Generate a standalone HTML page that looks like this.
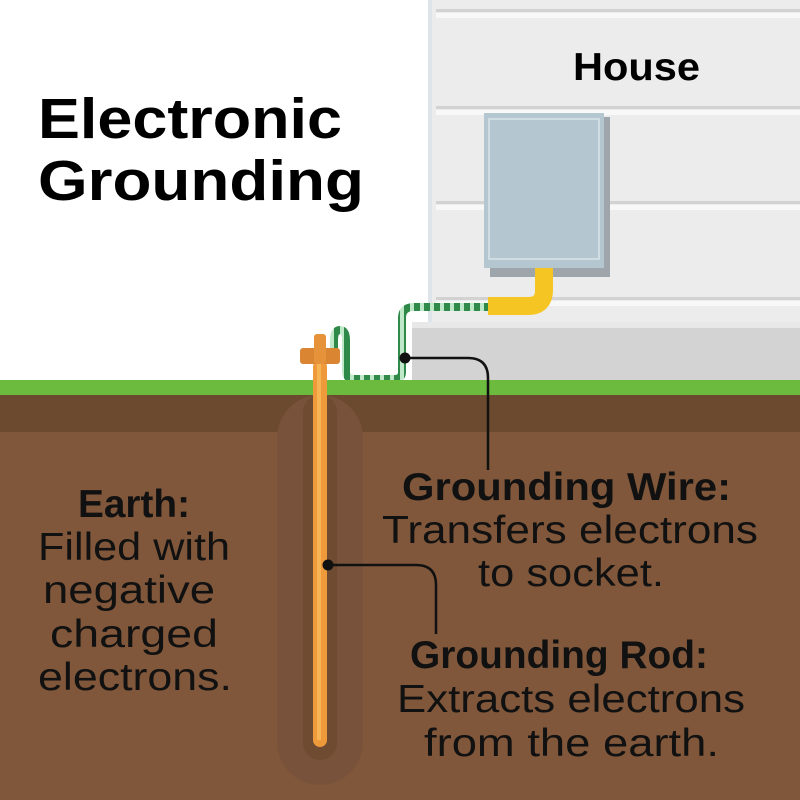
<!DOCTYPE html>
<html><head><meta charset="utf-8"><style>html,body{margin:0;padding:0;width:800px;height:800px;overflow:hidden}</style></head>
<body>
<svg width="800" height="800" viewBox="0 0 800 800" xmlns="http://www.w3.org/2000/svg" font-family="Liberation Sans, sans-serif">
<defs><pattern id="tw" width="10" height="10" patternUnits="userSpaceOnUse"><rect width="10" height="10" fill="#2f8a4a"/><rect width="4" height="10" fill="#bfe8c8"/></pattern></defs>
<rect width="800" height="800" fill="#ffffff"/>
<rect x="428" y="0" width="372" height="330" fill="#ececec"/>
<rect x="428" y="0" width="4" height="330" fill="#dde4ea"/>
<g fill="#d2d2d2">
<rect x="436" y="9" width="364" height="3"/>
<rect x="436" y="106" width="364" height="3"/>
<rect x="436" y="201" width="364" height="3"/>
<rect x="436" y="297" width="364" height="3"/>
</g>
<g fill="#f8f8f8">
<rect x="436" y="13" width="364" height="5"/>
<rect x="436" y="110" width="364" height="5"/>
<rect x="436" y="205" width="364" height="5"/>
<rect x="436" y="301" width="364" height="5"/>
</g>
<rect x="412" y="325" width="388" height="60" fill="#d3d3d3"/>
<rect x="412" y="322" width="388" height="6" fill="#e8e8e8"/>
<rect x="490" y="117" width="120" height="160" fill="#9ea6ac"/>
<rect x="484" y="113" width="120" height="155" fill="#b4c6cf"/>
<rect x="489" y="119" width="110" height="140" fill="none" stroke="#cfdce2" stroke-width="2"/>
<path d="M544 268 V290 Q544 306 528 306 H488" fill="none" stroke="#f5c623" stroke-width="18"/>
<path d="M488 307 H414 Q402 307 402 318 V372 Q402 379 394 379 H354 Q346 379 346 371 V340 Q346 330 340 330 Q334 330 334 340 V356" fill="none" stroke="url(#tw)" stroke-width="8"/>
<rect x="0" y="380" width="800" height="15" fill="#6cbb3f"/>
<rect x="0" y="395" width="800" height="37" fill="#6c4a2f"/>
<rect x="0" y="432" width="800" height="368" fill="#80573a"/>
<rect x="277" y="395" width="86" height="390" rx="43" fill="#78523a"/>
<rect x="303" y="395" width="34" height="365" rx="17" fill="#6e4b31"/>
<rect x="313" y="360" width="14" height="387" rx="7" fill="#ee9a3a"/>
<rect x="317" y="360" width="4" height="380" fill="#f7b455"/>
<rect x="300" y="348" width="40" height="16" rx="3" fill="#d98532"/>
<rect x="314" y="334" width="12" height="30" rx="3" fill="#e5923a"/>
<path d="M405 358 H468 Q488 358 488 378 V470" fill="none" stroke="#111" stroke-width="2.5"/>
<circle cx="405" cy="358" r="5.5" fill="#111"/>
<path d="M328 565 H416 Q436 565 436 585 V634" fill="none" stroke="#111" stroke-width="2.5"/>
<circle cx="328" cy="565" r="5.5" fill="#111"/>
<g font-weight="bold" fill="#000">
<text x="38" y="138" font-size="57" textLength="304" lengthAdjust="spacingAndGlyphs">Electronic</text>
<text x="38" y="200" font-size="57" textLength="326" lengthAdjust="spacingAndGlyphs">Grounding</text>
<text x="573" y="80" font-size="39" textLength="127" lengthAdjust="spacingAndGlyphs">House</text>
</g>
<g fill="#111" font-size="39">
<text x="402" y="500" font-weight="bold" textLength="329" lengthAdjust="spacingAndGlyphs">Grounding Wire:</text>
<text x="382" y="543" textLength="376" lengthAdjust="spacingAndGlyphs">Transfers electrons</text>
<text x="478" y="586" textLength="186" lengthAdjust="spacingAndGlyphs">to socket.</text>
<text x="410" y="668" font-weight="bold" textLength="298" lengthAdjust="spacingAndGlyphs">Grounding Rod:</text>
<text x="397" y="712" textLength="348" lengthAdjust="spacingAndGlyphs">Extracts electrons</text>
<text x="424" y="756" textLength="295" lengthAdjust="spacingAndGlyphs">from the earth.</text>
<text x="78" y="517" font-weight="bold" textLength="112" lengthAdjust="spacingAndGlyphs">Earth:</text>
<text x="38" y="560" textLength="192" lengthAdjust="spacingAndGlyphs">Filled with</text>
<text x="43" y="603" textLength="172" lengthAdjust="spacingAndGlyphs">negative</text>
<text x="50" y="647" textLength="168" lengthAdjust="spacingAndGlyphs">charged</text>
<text x="38" y="690" textLength="194" lengthAdjust="spacingAndGlyphs">electrons.</text>
</g>
</svg>
</body></html>
